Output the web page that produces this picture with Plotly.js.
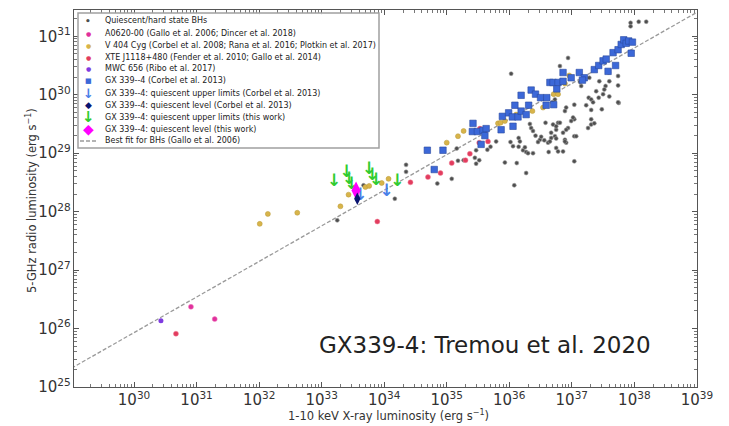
<!DOCTYPE html>
<html>
<head>
<meta charset="utf-8">
<script src="https://cdn.plot.ly/plotly-3.0.1.min.js"></script>
<style>html,body{margin:0;padding:0;background:#fff;}#chart{width:729px;height:426px;}</style>
</head>
<body>
<div id="chart"></div>
<script>
// ---- data (log10 of luminosities) ----
const quiescentLogLx = [33.25,33.67,34.35,34.35,34.17,34.85,35.08,35.18,35.16,35.27,35.47,35.45,35.52,35.47,35.65,35.70,35.79,36.02,35.93,36.12,36.08,36.27,36.06,36.15,36.15,36.22,36.27,36.38,36.33,36.58,36.42,36.49,36.56,36.62,36.63,36.67,36.73,36.75,36.78,36.35,36.38,36.17,36.25,36.30,36.46,36.51,36.86,36.89,36.86,36.94,36.91,37.04,37.04,37.04,37.23,37.31,37.31,37.36,37.26,37.48,37.75,37.04,36.75,36.78,36.99,37.02,36.70,36.75,36.81,36.91,36.67,36.75,37.07,36.89,36.65,37.94,37.94,38.07,38.19,36.94,36.81,36.03,37.74,37.74,37.59,37.60,37.44,37.54,37.52,37.50,37.39,37.43,37.60,37.27,37.31,37.34,37.15,37.13,37.28,37.18,37.74,36.91,36.89,37.31,36.73,36.69];
const quiescentLogLr = [27.85,28.45,28.80,28.68,28.22,28.48,28.56,28.87,29.08,28.88,29.05,28.92,28.88,28.82,29.06,29.11,29.20,29.19,28.84,28.83,28.45,28.66,29.12,29.26,29.11,29.05,29.02,29.00,29.50,29.52,29.30,29.23,29.22,29.18,29.02,29.35,29.29,29.40,29.52,29.43,29.38,29.20,29.10,29.00,29.19,29.28,29.35,29.23,29.03,29.43,29.18,29.29,29.58,29.83,29.82,29.58,29.49,29.51,29.43,29.75,29.86,28.86,29.09,29.03,29.55,29.61,29.49,29.46,29.52,29.40,29.26,29.25,29.29,29.20,29.20,31.23,31.17,31.25,31.25,30.63,30.49,30.36,30.32,30.16,30.38,30.23,30.23,30.15,30.09,30.01,30.06,29.95,29.97,29.95,29.92,29.87,30.15,30.22,30.29,30.26,29.87,29.78,29.72,29.74,29.92,29.87];

const a0620LogLx = [30.91, 31.29];
const a0620LogLr = [26.37, 26.16];

const v404LogLx = [32.01,32.14,32.61,33.30,33.43,33.70,33.76,33.96,34.07,35.00,35.18,35.27,35.82,35.86,35.93,36.11,36.31,36.37,36.54,36.76,36.71,36.78,36.89,36.96];
const v404LogLr = [27.79,27.96,27.98,28.09,28.29,28.42,28.44,28.49,28.56,29.18,29.29,29.38,29.51,29.52,29.55,29.66,29.82,29.72,29.78,30.08,30.01,30.01,30.19,30.33];

const xteLogLx = [30.67,33.89,34.42,34.70,34.90,35.08,35.30,35.37,35.52,35.66,35.53,35.61];
const xteLogLr = [25.91,27.83,28.50,28.59,28.66,28.83,28.88,28.99,29.18,29.20,29.42,29.36];

const mwcLogLx = [30.43];
const mwcLogLr = [26.13];

const gxLogLx = [34.69,34.80,34.94,35.41,35.42,35.49,35.58,35.63,35.61,35.55,35.87,35.89,35.99,36.05,36.06,36.14,36.09,36.19,36.27,36.31,36.19,36.35,36.42,36.50,36.60,36.59,36.71,36.65,36.70,36.78,36.76,36.86,36.86,36.99,37.12,37.20,37.17,37.36,37.43,37.50,37.55,37.58,37.66,37.70,37.74,37.79,37.83,37.87,37.91,37.97,37.95];
const gxLogLr = [29.05,28.72,29.05,29.37,29.51,29.37,29.39,29.42,29.30,29.15,29.40,29.63,29.69,29.62,29.46,29.62,29.82,29.72,29.66,29.82,29.99,30.08,30.01,29.95,29.95,29.82,29.83,30.21,30.21,30.21,30.10,30.38,30.23,30.29,30.38,30.29,30.25,30.43,30.50,30.58,30.61,30.40,30.72,30.50,30.77,30.86,30.94,30.88,30.92,30.90,30.71];

const gxCorbelULLogLx = [33.62, 34.04];
const gxCorbelULLogLr = [28.27, 28.34];
const gxCorbelQLogLx = [33.57];
const gxCorbelQLogLr = [28.22];

const gxThisULLogLx = [33.20,33.40,33.44,33.48,33.76,33.81,33.87,34.21];
const gxThisULLogLr = [28.51,28.67,28.55,28.46,28.72,28.62,28.53,28.51];
const gxThisQLogLx = [33.55];
const gxThisQLogLr = [28.36];

const fitLogLx = [29.0, 39.0];
const fitLogLr = [25.32, 31.41];

const legendLabels = [
  "Quiescent/hard state BHs",
  "A0620-00 (Gallo et al. 2006; Dincer et al. 2018)",
  "V 404 Cyg (Corbel et al. 2008; Rana et al. 2016; Plotkin et al. 2017)",
  "XTE J1118+480 (Fender et al. 2010; Gallo et al. 2014)",
  "MWC 656 (Ribo et al. 2017)",
  "GX 339--4 (Corbel et al. 2013)",
  "GX 339--4: quiescent upper limits (Corbel et al. 2013)",
  "GX 339--4: quiescent level (Corbel et al. 2013)",
  "GX 339--4: quiescent upper limits (this work)",
  "GX 339--4: quiescent level (this work)",
  "Best fit for BHs (Gallo et al. 2006)"
];

const xTitle = '1-10 keV X-ray luminosity (erg s<sup>−1</sup>)';
const yTitle = '5-GHz radio luminosity (erg s<sup>−1</sup>)';
const creditText = 'GX339-4: Tremou et al. 2020';

// ---- build ----
const pw = a => a.map(v => Math.pow(10, v));
const FONT = "DejaVu Sans, Liberation Sans, sans-serif";

const traces = [
  {x: pw(fitLogLx), y: pw(fitLogLr), mode: 'lines', line: {color: '#9a9a9a', width: 1.3, dash: '4px,2px'}, hoverinfo: 'skip'},
  {x: pw(quiescentLogLx), y: pw(quiescentLogLr), mode: 'markers', marker: {size: 4, color: '#4e4e4e', line: {width: 0.6, color: '#a0a0a0'}}},
  {x: pw(a0620LogLx), y: pw(a0620LogLr), mode: 'markers', marker: {size: 5, color: '#e0309c', line: {width: 0.5, color: '#f080c0'}}},
  {x: pw(v404LogLx), y: pw(v404LogLr), mode: 'markers', marker: {size: 5, color: '#d8b44a', line: {width: 0.5, color: '#b89a3a'}}},
  {x: pw(xteLogLx), y: pw(xteLogLr), mode: 'markers', marker: {size: 5, color: '#e23c5e', line: {width: 0.5, color: '#f08098'}}},
  {x: pw(mwcLogLx), y: pw(mwcLogLr), mode: 'markers', marker: {size: 5, color: '#7f3be0'}},
  {x: pw(gxLogLx), y: pw(gxLogLr), mode: 'markers', marker: {symbol: 'square', size: 6.5, color: '#3c68d8', line: {width: 0.6, color: '#2a4aa0'}}},
  {x: pw(gxCorbelULLogLx), y: pw(gxCorbelULLogLr), mode: 'text', text: gxCorbelULLogLx.map(() => '↓'), textposition: 'middle center', textfont: {family: FONT, size: 17, color: '#4a80e8', weight: 'bold'}},
  {x: pw(gxThisULLogLx), y: pw(gxThisULLogLr), mode: 'text', text: gxThisULLogLx.map(() => '↓'), textposition: 'middle center', textfont: {family: FONT, size: 17, color: '#30cc30', weight: 'bold'}},
  {x: pw(gxThisQLogLx), y: pw(gxThisQLogLr), mode: 'markers', marker: {symbol: 'diamond-tall', size: 13, color: '#ff00ff'}},
  {x: pw(gxCorbelQLogLx), y: pw(gxCorbelQLogLr), mode: 'markers', marker: {symbol: 'diamond-tall', size: 9, color: '#0a1470'}}
];
traces.forEach(t => { t.type = 'scatter'; t.showlegend = false; t.cliponaxis = true; });

// plot area in px: x 74..697, y 10..387
const L = 74, R = 697, T = 10, B = 387;
const px2x = p => (p - L) / (R - L);
const py2y = p => (B - p) / (B - T);

const annotations = [];
const shapes = [];
// legend box
shapes.push({type: 'rect', xref: 'paper', yref: 'paper', x0: px2x(78), x1: px2x(379), y0: py2y(148), y1: py2y(13),
  line: {color: '#a0a0a0', width: 1.5}, fillcolor: 'rgba(255,255,255,0.92)', layer: 'above'});
const legendSym = [
  {t: '•', c: '#4e4e4e', s: 9},
  {t: '●', c: '#e0309c', s: 6},
  {t: '●', c: '#d8b44a', s: 6},
  {t: '●', c: '#e23c5e', s: 6},
  {t: '●', c: '#7f3be0', s: 6},
  {t: '■', c: '#3c68d8', s: 7},
  {t: '↓', c: '#4a80e8', s: 13},
  {t: '◆', c: '#0a1470', s: 9},
  {t: '↓', c: '#30cc30', s: 15},
  {t: '◆', c: '#ff00ff', s: 14},
  null
];
legendLabels.forEach((lab, i) => {
  const py = 21 + 12 * i;
  annotations.push({xref: 'paper', yref: 'paper', x: px2x(103), y: py2y(py), xanchor: 'left', yanchor: 'middle',
    text: lab, showarrow: false, font: {family: FONT, size: 8, color: '#222'}});
  const s = legendSym[i];
  if (s) {
    annotations.push({xref: 'paper', yref: 'paper', x: px2x(88), y: py2y(py), xanchor: 'center', yanchor: 'middle',
      text: s.t, showarrow: false, font: {family: FONT, size: s.s, color: s.c, weight: 'bold'}});
  } else {
    shapes.push({type: 'line', xref: 'paper', yref: 'paper', x0: px2x(80), x1: px2x(97), y0: py2y(py), y1: py2y(py),
      line: {color: '#9a9a9a', width: 1.3, dash: '4px,2px'}, layer: 'above'});
  }
});
annotations.push({xref: 'paper', yref: 'paper', x: px2x(485), y: py2y(345), xanchor: 'center', yanchor: 'middle',
  text: creditText, showarrow: false, font: {family: FONT, size: 23, color: '#222'}});
// axis titles
annotations.push({xref: 'paper', yref: 'paper', x: px2x(388), y: py2y(415), xanchor: 'center', yanchor: 'middle',
  text: xTitle, showarrow: false, font: {family: FONT, size: 11.5, color: '#333'}});
annotations.push({xref: 'paper', yref: 'paper', x: px2x(32), y: py2y(201), xanchor: 'center', yanchor: 'middle',
  text: yTitle, textangle: -90, showarrow: false, font: {family: FONT, size: 11.5, color: '#333'}});

const axisCommon = {
  type: 'log', dtick: 1, exponentformat: 'power', showexponent: 'all',
  ticks: 'inside', ticklen: 5, tickwidth: 1, tickcolor: '#555',
  mirror: 'allticks', showline: true, linecolor: '#555', linewidth: 1,
  showgrid: false, zeroline: false,
  tickfont: {family: FONT, size: 12, color: '#333'},
  minor: {ticks: 'inside', ticklen: 3, dtick: 'D1', tickcolor: '#555', tickwidth: 0.8, showgrid: false}
};

const layout = {
  width: 729, height: 426,
  margin: {l: L, r: 729 - R, t: T, b: 426 - B},
  paper_bgcolor: '#fff', plot_bgcolor: '#fff',
  showlegend: false,
  xaxis: Object.assign({}, axisCommon, {range: [29.04, 39.002], ticklabelstandoff: 0}),
  yaxis: Object.assign({}, axisCommon, {range: [24.998, 31.45]}),
  annotations: annotations,
  shapes: shapes,
  font: {family: FONT}
};

Plotly.newPlot('chart', traces, layout, {staticPlot: true, displayModeBar: false});
</script>
</body>
</html>
